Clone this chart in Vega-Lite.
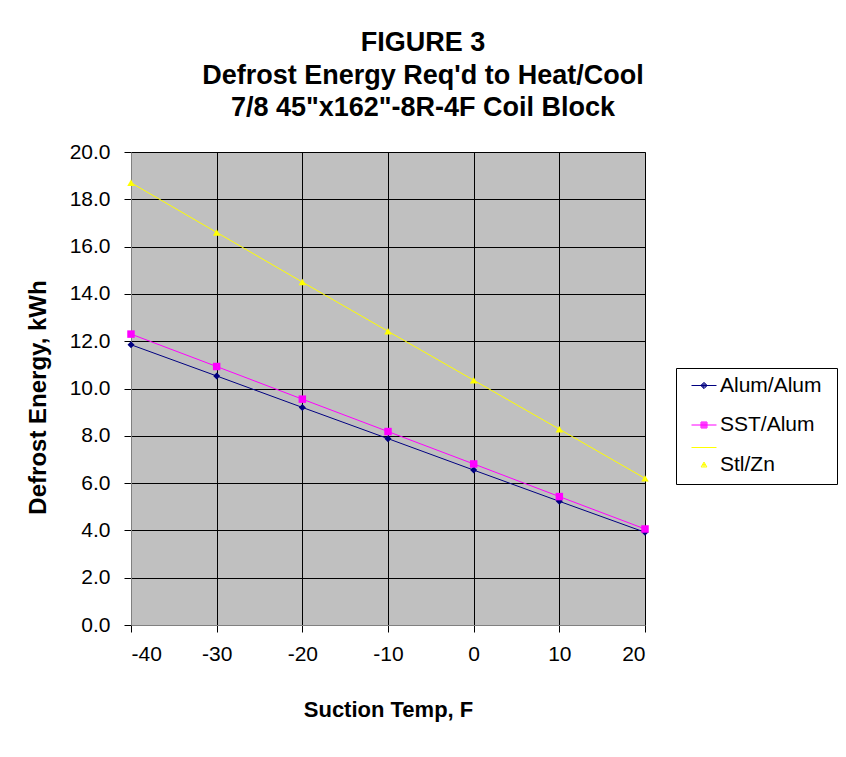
{
  "$schema": "https://vega.github.io/schema/vega-lite/v6.json",
  "width": 514,
  "height": 473,
  "autosize": {"type": "none"},
  "padding": {"left": 131, "top": 152, "right": 201, "bottom": 132},
  "background": "white",
  "title": {
    "text": ["FIGURE 3", "Defrost Energy Req'd to Heat/Cool", "7/8 45\"x162\"-8R-4F Coil Block"],
    "font": "Liberation Sans",
    "fontSize": 27,
    "fontWeight": "bold",
    "lineHeight": 32.5,
    "color": "black",
    "anchor": "middle",
    "frame": "group",
    "dx": 35,
    "offset": 19
  },
  "data": {
    "values": [
      {"t": -40, "s": "Alum/Alum", "e": 11.85},
      {"t": -30, "s": "Alum/Alum", "e": 10.53},
      {"t": -20, "s": "Alum/Alum", "e": 9.2},
      {"t": -10, "s": "Alum/Alum", "e": 7.88},
      {"t": 0, "s": "Alum/Alum", "e": 6.55},
      {"t": 10, "s": "Alum/Alum", "e": 5.23},
      {"t": 20, "s": "Alum/Alum", "e": 3.92},
      {"t": -40, "s": "SST/Alum", "e": 12.3},
      {"t": -30, "s": "SST/Alum", "e": 10.93},
      {"t": -20, "s": "SST/Alum", "e": 9.55},
      {"t": -10, "s": "SST/Alum", "e": 8.18},
      {"t": 0, "s": "SST/Alum", "e": 6.81},
      {"t": 10, "s": "SST/Alum", "e": 5.43},
      {"t": 20, "s": "SST/Alum", "e": 4.06},
      {"t": -40, "s": "Stl/Zn", "e": 18.7},
      {"t": -30, "s": "Stl/Zn", "e": 16.6},
      {"t": -20, "s": "Stl/Zn", "e": 14.5},
      {"t": -10, "s": "Stl/Zn", "e": 12.42},
      {"t": 0, "s": "Stl/Zn", "e": 10.35},
      {"t": 10, "s": "Stl/Zn", "e": 8.28},
      {"t": 20, "s": "Stl/Zn", "e": 6.2}
    ]
  },
  "encoding": {
    "x": {
      "field": "t",
      "type": "quantitative",
      "scale": {"domain": [-40, 20], "nice": false, "zero": false},
      "axis": {
        "values": [-40, -30, -20, -10, 0, 10, 20],
        "labelExpr": "'' + datum.value",
        "title": "Suction Temp, F",
        "titleX": 257,
        "titleY": 91,
        "titleAlign": "center",
        "titleBaseline": "alphabetic",
        "labelPadding": 11
      }
    },
    "y": {
      "field": "e",
      "type": "quantitative",
      "scale": {"domain": [0, 20], "nice": false},
      "axis": {
        "values": [0, 2, 4, 6, 8, 10, 12, 14, 16, 18, 20],
        "format": ".1f",
        "title": "Defrost Energy, kWh",
        "titleFontSize": 24,
        "titleX": -86,
        "titleY": 245,
        "titleAngle": -90,
        "titleAlign": "center",
        "titleBaseline": "alphabetic",
        "labelPadding": 14
      }
    }
  },
  "layer": [
    {
      "mark": {"type": "line", "strokeWidth": 1},
      "encoding": {
        "color": {
          "field": "s",
          "type": "nominal",
          "scale": {"domain": ["Alum/Alum", "SST/Alum", "Stl/Zn"], "range": ["#000080", "#FF00FF", "#FFFF00"]},
          "legend": null
        }
      }
    },
    {
      "transform": [{"filter": "datum.s === 'Alum/Alum'"}],
      "mark": {"type": "point", "shape": "diamond", "filled": true, "size": 49, "opacity": 1},
      "encoding": {
        "color": {"field": "s", "type": "nominal", "scale": {"domain": ["Alum/Alum", "SST/Alum", "Stl/Zn"], "range": ["#000080", "#FF00FF", "#FFFF00"]}, "legend": null}
      }
    },
    {
      "transform": [{"filter": "datum.s === 'SST/Alum'"}],
      "mark": {"type": "point", "shape": "square", "filled": true, "size": 56, "opacity": 1},
      "encoding": {
        "color": {"field": "s", "type": "nominal", "scale": {"domain": ["Alum/Alum", "SST/Alum", "Stl/Zn"], "range": ["#000080", "#FF00FF", "#FFFF00"]}, "legend": null}
      }
    },
    {
      "transform": [{"filter": "datum.s === 'Stl/Zn'"}],
      "mark": {"type": "point", "shape": "triangle-up", "filled": true, "size": 56, "opacity": 1},
      "encoding": {
        "color": {"field": "s", "type": "nominal", "scale": {"domain": ["Alum/Alum", "SST/Alum", "Stl/Zn"], "range": ["#000080", "#FF00FF", "#FFFF00"]}, "legend": null}
      }
    },
    {
      "transform": [{"filter": "datum.s === 'none'"}],
      "mark": {"type": "point", "filled": false, "opacity": 1, "strokeWidth": 1},
      "encoding": {
        "color": {
          "field": "s",
          "type": "nominal",
          "scale": {"domain": ["Alum/Alum", "SST/Alum", "Stl/Zn"], "range": ["#000080", "#FF00FF", "#FFFF00"]},
          "legend": {
            "title": null,
            "orient": "none",
            "legendX": 545,
            "legendY": 216,
            "labelExpr": "datum.label + '\u2800'"
          }
        },
        "shape": {
          "field": "s",
          "type": "nominal",
          "scale": {
            "domain": ["Alum/Alum", "SST/Alum", "Stl/Zn"],
            "range": [
              "M0,-1L0,-1M0,1L0,1M-0.735,0H0.735M-0.188,0L0,-0.188L0.188,0L0,0.188ZM-0.129,0L0,-0.129L0.129,0L0,0.129ZM-0.07,0L0,-0.07L0.07,0L0,0.07ZM-0.012,0L0,-0.012L0.012,0L0,0.012Z",
              "M0,-1L0,-1M0,1L0,1M-0.735,0H0.735M-0.176,-0.176H0.176V0.176H-0.176ZM-0.118,-0.118H0.118V0.118H-0.118ZM-0.059,-0.059H0.059V0.059H-0.059Z",
              "M0,1L0,1M-0.735,-1H0.735M0,-0.147L0.17,0.147L-0.17,0.147ZM0,-0.06L0.075,0.085L-0.075,0.085Z"
            ]
          },
          "legend": {
            "title": null,
            "orient": "none",
            "legendX": 545,
            "legendY": 216,
            "labelExpr": "datum.label + '\u2800'"
          }
        }
      }
    }
  ],
  "resolve": {"legend": {"color": "independent", "shape": "independent"}},
  "config": {
    "font": "Liberation Sans",
    "view": {"fill": "#C0C0C0", "stroke": "#808080", "strokeWidth": 1},
    "axis": {
      "grid": true,
      "gridColor": "#000000",
      "gridOpacity": 1,
      "gridWidth": 1,
      "domainColor": "#808080",
      "domainWidth": 1,
      "tickColor": "#000000",
      "tickSize": 7,
      "tickWidth": 1,
      "labelFont": "Liberation Sans",
      "labelFontSize": 21,
      "labelColor": "black",
      "titleFont": "Liberation Sans",
      "titleFontSize": 22,
      "titleFontWeight": "bold",
      "titleColor": "black"
    },
    "legend": {
      "fillColor": "white",
      "strokeColor": "black",
      "padding": 0,
      "symbolOffset": 10.5,
      "symbolSize": 1156,
      "symbolStrokeWidth": 1,
      "symbolOpacity": 1,
      "rowPadding": 0.5,
      "labelOffset": -1.5,
      "labelFont": "Liberation Sans",
      "labelFontSize": 21,
      "labelColor": "black"
    }
  }
}
